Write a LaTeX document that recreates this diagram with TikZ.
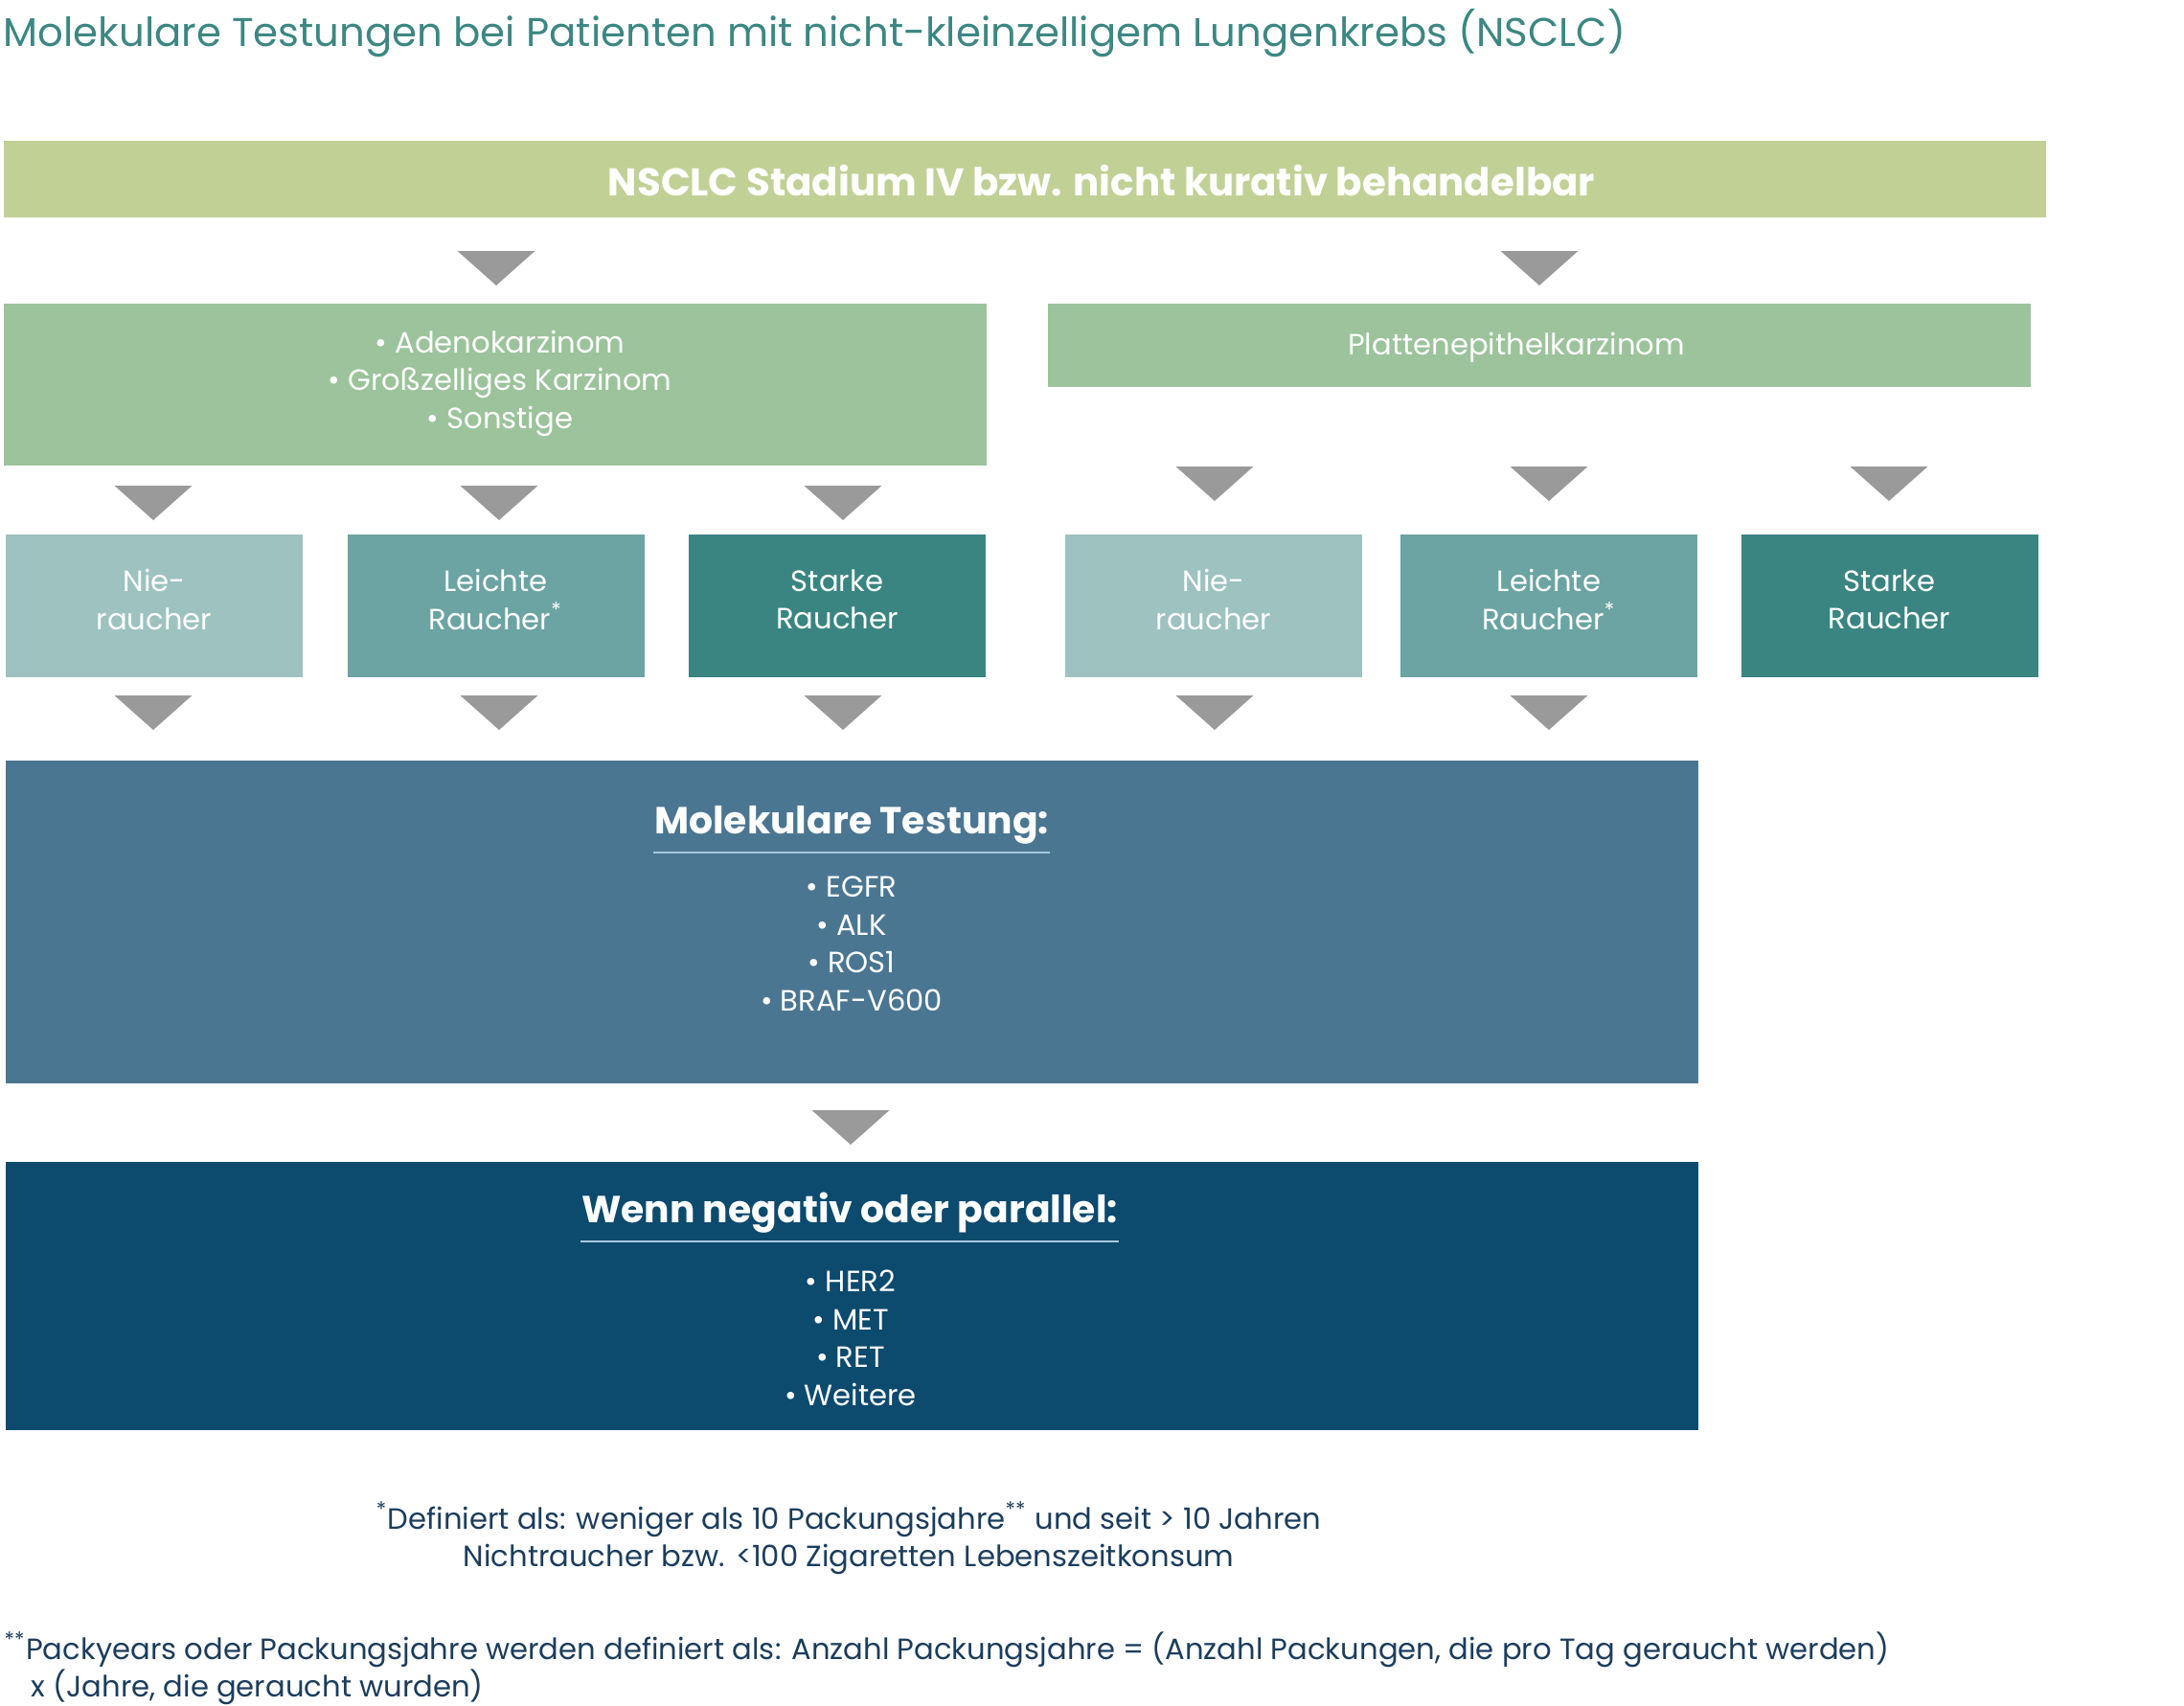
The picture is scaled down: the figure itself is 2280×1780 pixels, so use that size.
\documentclass[tikz,border=0pt]{standalone}
\usepackage{fontspec}
\setmainfont{Poppins}
\usetikzlibrary{positioning}

\begin{document}
\begin{tikzpicture}[x=0.3pt,y=0.3pt,yscale=-1,xscale=1,
  box/.style={inner sep=0pt,outer sep=0pt,text=white,align=center,font=\fontsize{9.2}{11.85}\selectfont},
  klein/.style={box,minimum width=93pt,minimum height=44.7pt},
  breit/.style={box,minimum width=530.1pt},
  pfeil/.style={fill={rgb, 255:red, 154; green, 154; blue, 154 }},
  kopf/.style={inner sep=0pt,text=white,font=\fontsize{11.8}{14}\selectfont\bfseries},
  strich/.style={draw={rgb, 255:red, 168; green, 200; blue, 222 },line width=0.6pt},
  fuss/.style={inner sep=0pt,text={rgb, 255:red, 28; green, 61; blue, 92 },font=\fontsize{9.2}{11.7}\selectfont}]
\useasboundingbox (0,0) rectangle (2280,1780);

% Text Node
\node [anchor=base west,inner sep=0pt,text={rgb, 255:red, 60; green, 135; blue, 130 },font=\fontsize{12.55}{15}\selectfont] (titel) at (3,48) {Molekulare Testungen bei Patienten mit nicht-kleinzelligem Lungenkrebs (NSCLC)};

%Shape: Rectangle
\node [box,fill={rgb, 255:red, 193; green, 209; blue, 150 },minimum width=639.6pt,minimum height=24pt] (stadium) at (1070,187) {};
\node [anchor=base,inner sep=0pt,text=white,font=\fontsize{12.1}{15}\selectfont\bfseries] (stadiumtext) at (1150,204) {NSCLC Stadium IV bzw. nicht kurativ behandelbar};

%Shape: Triangle
\fill [pfeil] (477.5,262) -- (558.5,262) -- (518,298) -- cycle ;
%Shape: Triangle
\fill [pfeil] (1566.5,262) -- (1647.5,262) -- (1607,298) -- cycle ;

%Shape: Rectangle
\node [box,fill={rgb, 255:red, 156; green, 195; blue, 155 },minimum width=307.8pt,minimum height=50.7pt] (adeno) at (517,401.5) {};
\node [box] (adenotext) at (522,400) {• Adenokarzinom\\• Großzelliges Karzinom\\• Sonstige};
%Shape: Rectangle
\node [box,fill={rgb, 255:red, 156; green, 195; blue, 155 },minimum width=307.8pt,minimum height=26.1pt] (platte) at (1607,360.5) {};
\node [box] (plattetext) at (1583,363) {Plattenepithelkarzinom};

%Shape: Triangle
\fill [pfeil] (119.5,507) -- (200.5,507) -- (160,543) -- cycle ;
%Shape: Triangle
\fill [pfeil] (480.5,507) -- (561.5,507) -- (521,543) -- cycle ;
%Shape: Triangle
\fill [pfeil] (839.5,507) -- (920.5,507) -- (880,543) -- cycle ;
%Shape: Triangle
\fill [pfeil] (1227.5,487) -- (1308.5,487) -- (1268,523) -- cycle ;
%Shape: Triangle
\fill [pfeil] (1576.5,487) -- (1657.5,487) -- (1617,523) -- cycle ;
%Shape: Triangle
\fill [pfeil] (1931.5,487) -- (2012.5,487) -- (1972,523) -- cycle ;

%Shape: Rectangle
\node [klein,fill={rgb, 255:red, 157; green, 194; blue, 192 }] (niea) at (161,632.5) {};
\node [klein,fill={rgb, 255:red, 107; green, 164; blue, 162 }] (leichta) at (517.5,632.5) {};
\node [klein,fill={rgb, 255:red, 58; green, 133; blue, 129 }] (starka) at (874,632.5) {};
\node [klein,fill={rgb, 255:red, 157; green, 194; blue, 192 }] (nieb) at (1267,632.5) {};
\node [klein,fill={rgb, 255:red, 107; green, 164; blue, 162 }] (leichtb) at (1617,632.5) {};
\node [klein,fill={rgb, 255:red, 58; green, 133; blue, 129 }] (starkb) at (1972.5,632.5) {};
% Text Node
\node [box] (nieatext) at ([yshift=-2pt]niea) {Nie-\\raucher};
\node [box] (leichtatext) at ([yshift=-2pt]leichta) {Leichte\\Raucher\textsuperscript{*}};
\node [box] (starkatext) at ([yshift=-2pt]starka) {Starke\\Raucher};
\node [box] (niebtext) at ([yshift=-2pt]nieb) {Nie-\\raucher};
\node [box] (leichtbtext) at ([yshift=-2pt]leichtb) {Leichte\\Raucher\textsuperscript{*}};
\node [box] (starkbtext) at ([yshift=-2pt]starkb) {Starke\\Raucher};

%Shape: Triangle
\fill [pfeil] (119.5,726) -- (200.5,726) -- (160,762) -- cycle ;
%Shape: Triangle
\fill [pfeil] (480.5,726) -- (561.5,726) -- (521,762) -- cycle ;
%Shape: Triangle
\fill [pfeil] (839.5,726) -- (920.5,726) -- (880,762) -- cycle ;
%Shape: Triangle
\fill [pfeil] (1227.5,726) -- (1308.5,726) -- (1268,762) -- cycle ;
%Shape: Triangle
\fill [pfeil] (1576.5,726) -- (1657.5,726) -- (1617,762) -- cycle ;

%Shape: Rectangle
\node [breit,fill={rgb, 255:red, 74; green, 118; blue, 146 },minimum height=101.1pt] (molbox) at (889.5,962.5) {};
\node [kopf,anchor=base] (molkopf) at (889,870) {Molekulare Testung:};
\draw [strich] ([yshift=6pt]molkopf.base west) -- ([yshift=6pt]molkopf.base east) ;
\node [box] (molliste) at (889,985) {• EGFR\\• ALK\\• ROS1\\• BRAF-V600};

%Shape: Triangle
\fill [pfeil] (847.5,1159) -- (928.5,1159) -- (888,1195) -- cycle ;

%Shape: Rectangle
\node [breit,fill={rgb, 255:red, 12; green, 74; blue, 110 },minimum height=84pt] (wennbox) at (889.5,1353) {};
\node [kopf,anchor=base] (wennkopf) at (887,1276) {Wenn negativ oder parallel:};
\draw [strich] ([yshift=6pt]wennkopf.base west) -- ([yshift=6pt]wennkopf.base east) ;
\node [box] (wennliste) at (888,1397) {• HER2\\• MET\\• RET\\• Weitere};

% Text Node
\node [fuss,align=center] (fussa) at (886,1606) {\textsuperscript{*}Definiert als: weniger als 10 Packungsjahre\textsuperscript{**} und seit > 10 Jahren\\Nichtraucher bzw. <100 Zigaretten Lebenszeitkonsum};
% Text Node
\node [fuss,align=left,anchor=north west] (fussb) at (4,1703) {\textsuperscript{**}Packyears oder Packungsjahre werden definiert als: Anzahl Packungsjahre = (Anzahl Packungen, die pro Tag geraucht werden)\\\hspace*{8.4pt}x (Jahre, die geraucht wurden)};

\end{tikzpicture}
\end{document}
